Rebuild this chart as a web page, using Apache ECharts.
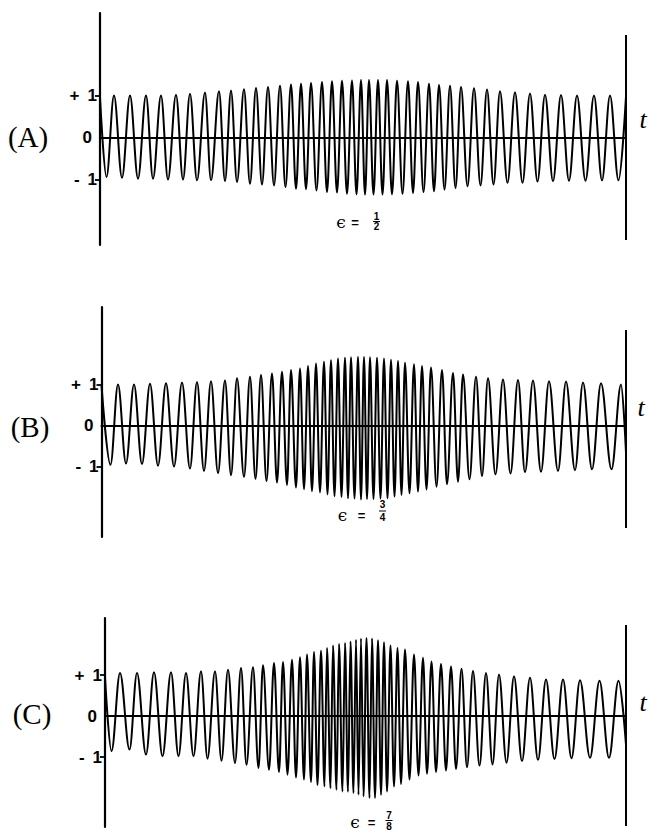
<!DOCTYPE html>
<html><head><meta charset="utf-8">
<script src="https://cdn.jsdelivr.net/npm/echarts@6/dist/echarts.min.js"></script>
<style>html,body{margin:0;padding:0;background:#fff}#c{width:652px;height:833px}</style>
</head><body><div id="c"></div>
<script>
// ---- data: times of successive extrema (t) and the signal value there ----
// Panel (A), epsilon = 1/2
const aT = [0,1.3,2.8,4.4,6.0,7.6,9.2,10.6,12.2,13.6,15.2,16.6,18.0,19.4,21.0,22.2,23.8,25.0,26.2,27.4,28.8,30.0,31.2,32.4,33.6,34.8,36.0,37.1,38.2,39.2,40.2,41.2,42.2,43.3,44.4,45.4,46.4,47.4,48.4,49.4,50.4,51.3,52.2,53.0,53.8,54.7,55.6,56.5,57.4,58.4,59.4,60.5,61.6,62.6,63.6,64.7,65.8,66.8,67.8,68.9,70.0,71.1,72.2,73.5,74.8,76.1,77.4,78.7,80.0,81.5,83.0,84.5,86.0,87.5,89.0,90.6,92.2,93.8,95.4,97.1,98.8,100.4,102.0,103.7,105.2];
const aV = [0.95,-0.94,1.00,-0.96,1.00,-0.98,1.00,-0.98,1.00,-1.00,1.02,-1.00,1.04,-1.02,1.07,-1.02,1.10,-1.04,1.12,-1.06,1.15,-1.10,1.18,-1.12,1.20,-1.14,1.23,-1.18,1.26,-1.22,1.28,-1.23,1.30,-1.26,1.32,-1.30,1.34,-1.31,1.35,-1.34,1.36,-1.35,1.37,-1.36,1.37,-1.36,1.37,-1.36,1.37,-1.35,1.35,-1.34,1.34,-1.32,1.32,-1.30,1.28,-1.28,1.25,-1.24,1.23,-1.20,1.20,-1.16,1.17,-1.14,1.14,-1.12,1.10,-1.08,1.08,-1.08,1.05,-1.05,1.02,-1.04,1.01,-1.03,1.00,-1.03,1.00,-1.02,1.00,-1.02,0.98];
// Panel (B), epsilon = 3/4
const bT = [0,1.8,3.3,4.9,6.5,8.1,9.7,11.3,12.9,14.5,16.1,17.7,19.1,20.5,21.9,23.3,24.7,25.9,27.1,28.5,29.7,30.8,31.9,33.0,34.1,35.1,36.1,37.1,37.9,38.9,39.7,40.5,41.3,42.1,42.9,43.7,44.5,45.2,45.9,46.6,47.3,48.0,48.7,49.3,49.9,50.6,51.3,51.9,52.5,53.1,53.7,54.4,55.1,55.8,56.5,57.2,57.9,58.6,59.3,60.0,60.7,61.6,62.5,63.3,64.1,65.0,65.9,67.0,68.1,69.1,70.3,71.3,72.3,73.6,74.9,76.1,77.3,78.8,80.3,81.8,83.3,84.7,86.3,87.9,89.5,91.3,92.9,94.7,96.3,98.1,99.9,102.0,103.9,104.9];
const bV = [0.98,-0.95,1.00,-0.92,1.00,-0.93,1.02,-0.97,1.03,-0.99,1.05,-1.04,1.06,-1.10,1.08,-1.15,1.10,-1.20,1.15,-1.24,1.19,-1.29,1.23,-1.34,1.27,-1.38,1.31,-1.44,1.35,-1.50,1.39,-1.54,1.45,-1.59,1.51,-1.62,1.55,-1.67,1.59,-1.71,1.63,-1.73,1.65,-1.76,1.66,-1.77,1.67,-1.79,1.67,-1.78,1.66,-1.78,1.65,-1.77,1.63,-1.76,1.60,-1.72,1.57,-1.68,1.53,-1.64,1.49,-1.60,1.45,-1.55,1.41,-1.48,1.35,-1.42,1.28,-1.36,1.24,-1.30,1.19,-1.22,1.15,-1.18,1.12,-1.16,1.11,-1.13,1.10,-1.12,1.08,-1.10,1.07,-1.08,1.05,-1.06,1.03,-1.06,1.00,-0.65];
// Panel (C), epsilon = 7/8
const cT = [0,1.3,3.0,4.9,6.4,8.2,9.8,11.5,13.2,14.7,16.2,17.7,19.2,20.5,22.0,23.3,24.6,26.0,27.2,28.3,29.6,30.7,31.6,32.8,33.8,34.8,35.6,36.5,37.4,38.2,39.0,39.8,40.4,41.2,41.8,42.5,43.2,43.9,44.4,45.1,45.6,46.3,46.8,47.5,48.0,48.6,49.1,49.7,50.2,50.7,51.2,51.7,52.3,52.9,53.4,54.0,54.6,55.2,55.8,56.4,57.1,57.8,58.5,59.2,60.0,60.9,61.8,62.7,63.6,64.4,65.3,66.2,67.2,68.2,69.2,70.2,71.3,72.4,73.6,74.9,76.2,77.5,78.8,80.3,81.8,83.4,85.0,86.6,88.2,89.9,91.6,93.3,95.0,97.0,98.9,100.8,102.7,104.2];
const cV = [0.95,-0.86,1.05,-0.82,1.05,-0.94,1.07,-0.98,1.07,-0.98,1.05,-0.98,1.09,-1.04,1.09,-1.09,1.13,-1.15,1.17,-1.19,1.19,-1.27,1.24,-1.31,1.29,-1.37,1.32,-1.43,1.37,-1.50,1.43,-1.55,1.50,-1.61,1.56,-1.68,1.59,-1.72,1.66,-1.76,1.72,-1.80,1.76,-1.84,1.78,-1.85,1.82,-1.88,1.86,-1.92,1.89,-1.96,1.90,-2.00,1.89,-2.00,1.85,-1.92,1.80,-1.84,1.72,-1.72,1.66,-1.66,1.62,-1.55,1.50,-1.45,1.42,-1.41,1.33,-1.37,1.27,-1.33,1.21,-1.29,1.15,-1.25,1.10,-1.21,1.05,-1.18,1.01,-1.14,0.97,-1.10,0.93,-1.07,0.89,-1.05,0.89,-1.03,0.87,-1.02,0.86,-1.02,0.86,-0.70];

const yTicks = [-1, 0, 1];
const panelNames = ['(A)', '(B)', '(C)'];
const axisName = 't';
const epsNum = ['1', '3', '7'];
const epsDen = ['2', '4', '8'];

// ---- layout (pixels) ----
const layout = [
  {left:100,   top:13,  bottom:245, zero:137.5, unit:42,   rTop:35,  rBot:240, lab:[28,137], tp:[643,119], eps:{ex:341,   ey:222, qx:355,   fx:376.5, ny:216,   dy:226.5, by:221.5}},
  {left:101.5, top:307, bottom:537, zero:425.7, unit:41.2, rTop:330, rBot:528, lab:[30,427], tp:[641,407], eps:{ex:342.5, ey:515, qx:361.5, fx:382.5, ny:504.5, dy:517,   by:511}},
  {left:105,   top:618, bottom:827, zero:716,   unit:41,   rTop:625, rBot:826, lab:[32,714], tp:[643,702], eps:{ex:355,   ey:822, qx:371.5, fx:389,   ny:815,   dy:826,   by:820.5}}
];
const RIGHT = 626;
const times = [aT, bT, cT], vals = [aV, bV, cV];

const labFont = {fontFamily: 'Liberation Sans', fontWeight: 'bold', fontSize: 17, color: '#000'};
const grids = [], xAxes = [], yAxes = [], series = [], graphics = [];
layout.forEach((L, i) => {
  const T = times[i], V = vals[i];
  const tMax = T[T.length - 1];
  const yMax = (L.zero - L.top) / L.unit, yMin = -(L.bottom - L.zero) / L.unit;
  grids.push({left: L.left, top: L.top, width: RIGHT - L.left, height: L.bottom - L.top, containLabel: false});
  xAxes.push({type: 'value', gridIndex: i, min: 0, max: tMax,
    axisLine: {show: true, onZero: true, lineStyle: {color: '#000', width: 2.2}},
    axisTick: {show: false}, axisLabel: {show: false}, splitLine: {show: false}});
  yAxes.push({type: 'value', gridIndex: i, min: yMin, max: yMax,
    axisLine: {show: true, onZero: false, lineStyle: {color: '#000', width: 2.2}},
    axisTick: {show: true, customValues: [-1, 1], length: 5, lineStyle: {color: '#000', width: 1.8}},
    axisLabel: {show: true, customValues: yTicks, margin: 3,
      formatter: v => v > 0 ? '{s|+}{n|' + v + '}' : (v < 0 ? '{s|-}{n|' + Math.abs(v) + '}' : '{z|0}'),
      rich: {
        s: Object.assign({}, labFont),
        n: Object.assign({padding: [0, 0, 0, 8]}, labFont),
        z: Object.assign({padding: [0, 5, 0, 0]}, labFont)
      }},
    splitLine: {show: false}});
  series.push({type: 'line', xAxisIndex: i, yAxisIndex: i,
    data: T.map((t, k) => [t, V[k]]),
    smooth: 0.36, smoothMonotone: 'x', showSymbol: false, symbol: 'none',
    lineStyle: {color: '#000', width: 2}, animation: false, silent: true,
    markLine: {silent: true, symbol: 'none', animation: false, label: {show: false},
      lineStyle: {color: '#000', width: 2, type: 'solid'},
      data: [[{coord: [tMax, (L.zero - L.rTop) / L.unit]}, {coord: [tMax, -(L.rBot - L.zero) / L.unit]}]]}});
  graphics.push({type: 'text', x: L.lab[0], y: L.lab[1],
    style: {text: panelNames[i], font: '29px "Liberation Serif", serif', fill: '#000', textAlign: 'center', textVerticalAlign: 'middle'}});
  graphics.push({type: 'text', x: L.tp[0], y: L.tp[1],
    style: {text: axisName, font: 'italic 26px "Liberation Serif", serif', fill: '#000', textAlign: 'center', textVerticalAlign: 'middle'}});
  const E = L.eps;
  graphics.push({type: 'text', x: E.ex, y: E.ey,
    style: {text: 'ϵ', font: '17px "DejaVu Serif", serif', fill: '#000', textAlign: 'center', textVerticalAlign: 'middle'}});
  graphics.push({type: 'text', x: E.qx, y: E.ey,
    style: {text: '=', font: 'bold 13px "Liberation Sans", sans-serif', fill: '#000', textAlign: 'center', textVerticalAlign: 'middle'}});
  graphics.push({type: 'text', x: E.fx, y: E.ny,
    style: {text: epsNum[i], font: 'bold 10px "Liberation Sans", sans-serif', fill: '#000', textAlign: 'center', textVerticalAlign: 'middle'}});
  graphics.push({type: 'line', shape: {x1: E.fx - 3.5, y1: E.by, x2: E.fx + 3.5, y2: E.by}, style: {stroke: '#000', lineWidth: 1}});
  graphics.push({type: 'text', x: E.fx, y: E.dy,
    style: {text: epsDen[i], font: 'bold 10px "Liberation Sans", sans-serif', fill: '#000', textAlign: 'center', textVerticalAlign: 'middle'}});
});

const chart = echarts.init(document.getElementById('c'), null, {renderer: 'svg', width: 652, height: 833});
chart.setOption({
  backgroundColor: '#fff',
  animation: false,
  grid: grids, xAxis: xAxes, yAxis: yAxes, series: series,
  graphic: graphics
});
</script>
</body></html>
